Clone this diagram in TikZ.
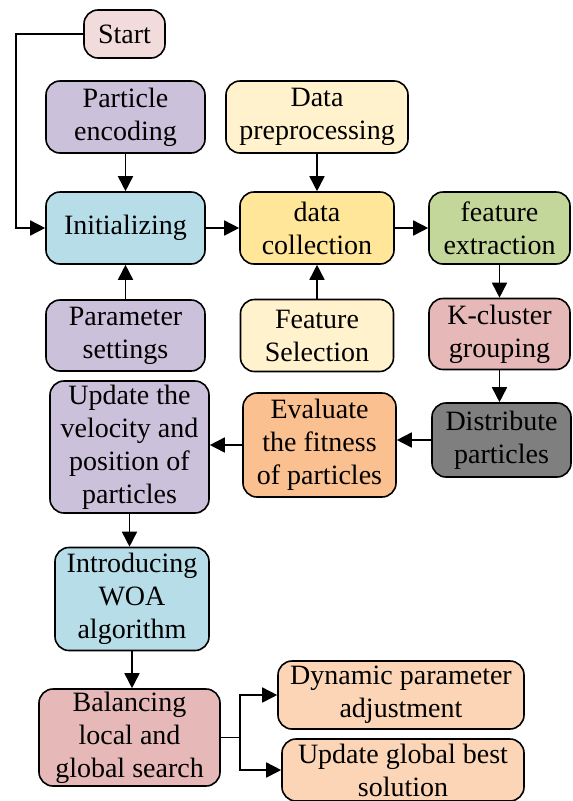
\documentclass[tikz,border=0pt]{standalone}
\usepackage{fontspec}
\setmainfont{Liberation Serif}
\usetikzlibrary{arrows.meta,calc}

\definecolor{cStart}{HTML}{F2DCDB}
\definecolor{cLav}{HTML}{CCC1DA}
\definecolor{cCream}{HTML}{FFF2CC}
\definecolor{cBlue}{HTML}{B7DEE8}
\definecolor{cGold}{HTML}{FFE699}
\definecolor{cGreen}{HTML}{C4D79B}
\definecolor{cRose}{HTML}{E6B9B8}
\definecolor{cGray}{HTML}{7F7F7F}
\definecolor{cOrange}{HTML}{FAC090}
\definecolor{cPeach}{HTML}{FBD5B5}

\tikzset{
  box/.style={draw, line width=1.6pt, rounded corners=14pt, align=center,
    inner sep=0pt, font=\fontsize{28}{33}\selectfont},
  arr/.style={line width=1.6pt, -{Triangle[length=15pt,width=15pt]}},
  ln/.style={line width=1.6pt}
}

\begin{document}
\begin{tikzpicture}[x=1pt,y=-1pt]
\useasboundingbox (0,0) rectangle (573,801);

% process boxes
\node[box, fill=cStart, minimum width=81pt, minimum height=48pt] (start) at (124.5,34) {Start};
\node[box, fill=cLav, minimum width=159pt, minimum height=72pt] (penc) at (125.5,117) {Particle\\encoding};
\node[box, fill=cCream, minimum width=182pt, minimum height=72pt] (dpre) at (317,117) {Data\\preprocessing};
\node[box, fill=cBlue, minimum width=159pt, minimum height=72pt] (init) at (125.5,228) {Initializing};
\node[box, fill=cGold, minimum width=154pt, minimum height=72pt] (dcol) at (317,228) {data\\collection};
\node[box, fill=cGreen, minimum width=141pt, minimum height=72pt] (fext) at (499.5,228) {feature\\extraction};
\node[box, fill=cLav, minimum width=159pt, minimum height=71pt] (pset) at (125.5,335.5) {Parameter\\settings};
\node[box, fill=cCream, minimum width=153pt, minimum height=72pt] (fsel) at (317,335.5) {Feature\\Selection};
\node[box, fill=cRose, minimum width=141pt, minimum height=71pt] (kclu) at (499.5,334) {K-cluster\\grouping};
\node[box, fill=cLav, minimum width=159pt, minimum height=132pt] (upd) at (129.5,447) {Update the\\velocity and\\position of\\particles};
\node[box, fill=cOrange, minimum width=153pt, minimum height=104pt] (eval) at (319.5,445) {Evaluate\\the fitness\\of particles};
\node[box, fill=cGray, minimum width=139pt, minimum height=74pt] (dist) at (501.5,440) {Distribute\\particles};
\node[box, fill=cBlue, minimum width=154pt, minimum height=103pt] (woa) at (132,599) {Introducing\\WOA\\algorithm};
\node[box, fill=cRose, minimum width=181pt, minimum height=97pt] (bal) at (129.5,737.5) {Balancing\\local and\\global search};
\node[box, fill=cPeach, minimum width=246pt, minimum height=68pt] (dyn) at (401,695) {Dynamic parameter\\adjustment};
\node[box, fill=cPeach, minimum width=242pt, minimum height=62pt] (ugb) at (403,770) {Update global best\\solution};

% connectors
\coordinate (loop) at (16,34);
\draw[arr] (start.west) -- (loop) |- (init.west);
\draw[arr] (penc.south) -- (init.north);
\draw[arr] (pset.north) -- (init.south);
\draw[arr] (init.east) -- (dcol.west);
\draw[arr] (dpre.south) -- (dcol.north);
\draw[arr] (fsel.north) -- (dcol.south);
\draw[arr] (dcol.east) -- (fext.west);
\draw[arr] (fext.south) -- (kclu.north);
\draw[arr] (kclu.south) -- (kclu.south |- dist.north);
\draw[arr] (dist.west) -- (dist.west -| eval.east);
\draw[arr] (eval.west) -- (eval.west -| upd.east);
\draw[arr] (upd.south) -- (upd.south |- woa.north);
\draw[arr] (woa.south) -- (woa.south |- bal.north);
\coordinate (fork) at (240,737.5);
\draw[ln] (bal.east) -- (fork);
\draw[arr] (fork) |- (dyn.west);
\draw[arr] (fork) |- (ugb.west);
\end{tikzpicture}
\end{document}
